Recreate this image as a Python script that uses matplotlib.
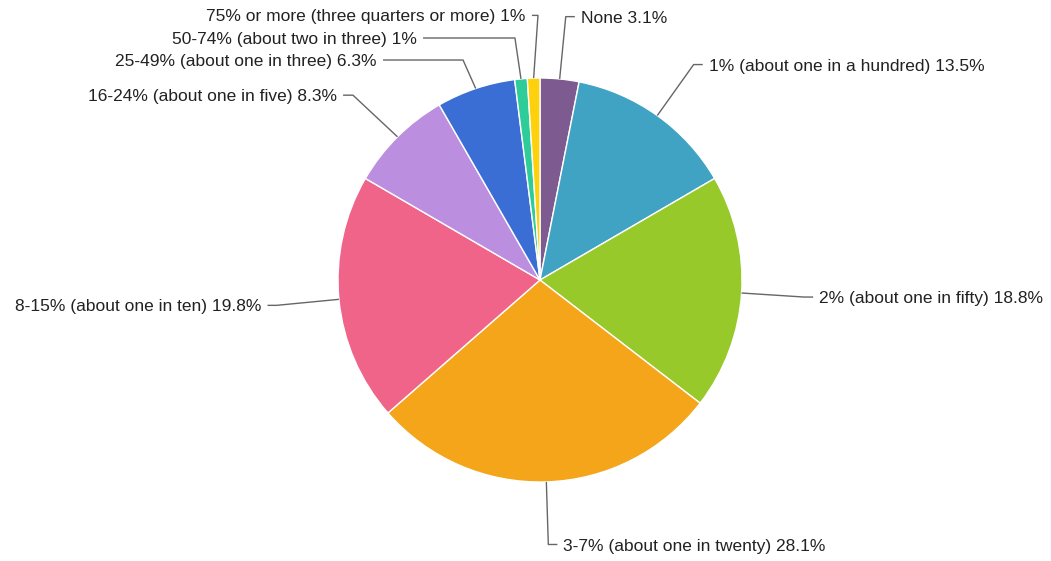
import matplotlib.pyplot as plt
import numpy as np

labels = ['None', '1% (about one in a hundred)', '2% (about one in fifty)',
          '3-7% (about one in twenty)', '8-15% (about one in ten)',
          '16-24% (about one in five)', '25-49% (about one in three)',
          '50-74% (about two in three)', '75% or more (three quarters or more)']
values = [3.1, 13.5, 18.8, 28.1, 19.8, 8.3, 6.3, 1, 1]
colours = ['#7d5b91', '#41a3c3', '#96c929', '#f5a519', '#f06489',
           '#bc8ee0', '#3b6ed5', '#2dcc98', '#fdd20c']

# elbow (x, y) and end of the horizontal leader for the crowded slices
# at the top, in pie radius units
elbow_override = {
    5: (-0.926, 0.915, -0.975),
    6: (-0.381, 1.089, -0.777),
    7: (-0.124, 1.198, -0.579),
    8: (-0.01, 1.31, -0.04),
}

W, H, DPI = 1051, 561, 100
cx, cy, R = 540, 280, 202

fig = plt.figure(figsize=(W / DPI, H / DPI), dpi=DPI)
ax = fig.add_axes([0, 0, 1, 1])

wedges, _ = ax.pie(values, colors=colours, startangle=90, counterclock=False,
                   radius=1, center=(0, 0), frame=True,
                   wedgeprops=dict(edgecolor='white', linewidth=1))
ax.set_xlim((0 - cx) / R, (W - cx) / R)
ax.set_ylim((cy - H) / R, cy / R)
ax.set_aspect('auto')
ax.axis('off')

for i, w in enumerate(wedges):
    ang = np.deg2rad((w.theta1 + w.theta2) / 2)
    x0, y0 = np.cos(ang), np.sin(ang)
    if i in elbow_override:
        ex, ey, hx = elbow_override[i]
        side = -1
    else:
        ex, ey = 1.31 * x0, 1.31 * y0
        side = 1 if ex >= 0 else -1
        hx = ex + side * 0.045
    ax.plot([x0, ex, hx], [y0, ey, ey], color='#666666', lw=1, solid_capstyle='butt')
    txt = f'{labels[i]} {values[i]:g}%'
    ax.text(hx + side * 0.03, ey - 0.008, txt, ha='left' if side > 0 else 'right',
            va='center', fontsize=12.5, color='#222222', family='Liberation Sans')

fig.savefig('out.png', dpi=DPI)
